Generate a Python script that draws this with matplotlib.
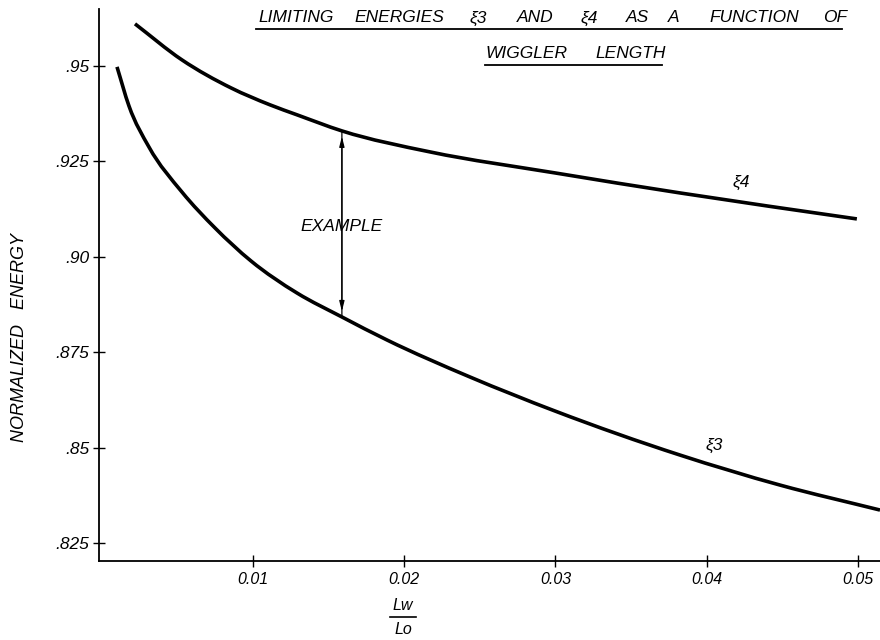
import numpy as np
import matplotlib
matplotlib.use("Agg")
import matplotlib.pyplot as plt
from matplotlib.lines import Line2D
from matplotlib.path import Path
from matplotlib.patches import PathPatch

plt.rcParams['font.family'] = ['Liberation Sans Narrow', 'Liberation Sans', 'DejaVu Sans']
plt.rcParams['font.style'] = 'italic'

# xi4 curve (upper)
x_xi4 = [0.00220, 0.00530, 0.00855, 0.01113, 0.01292, 0.01588, 0.02171, 0.02997, 0.03823, 0.04993]
y_xi4 = [0.96101, 0.95158, 0.94423, 0.93979, 0.93717, 0.93297, 0.92746, 0.92196, 0.91672, 0.90991]

# xi3 curve (lower)
x_xi3 = [0.00101, 0.00180, 0.00312, 0.00530, 0.00749, 0.00987, 0.01291, 0.01588, 0.01886,
         0.02435, 0.02997, 0.03823, 0.04484, 0.05146]
y_xi3 = [0.94974, 0.93952, 0.92877, 0.91698, 0.90755, 0.89890, 0.89051, 0.88423, 0.87820,
         0.86850, 0.85959, 0.84806, 0.84020, 0.83365]

# example marker
x_example = 0.01588
y_example = [0.88423, 0.93297]

xticks = [0.01, 0.02, 0.03, 0.04, 0.05]
xticklabels = ["0.01", "0.02", "0.03", "0.04", "0.05"]
yticks = [0.825, 0.85, 0.875, 0.90, 0.925, 0.95]
yticklabels = [".825", ".85", ".875", ".90", ".925", ".95"]


def smooth_curve(xs, ys):
    # cubic Hermite through the read points, drawn as Bezier segments
    x = np.asarray(xs, float)
    y = np.asarray(ys, float)
    h = np.diff(x)
    d = np.diff(y) / h
    m = np.empty_like(y)
    m[0], m[-1] = d[0], d[-1]
    m[1:-1] = (h[:-1] * d[1:] + h[1:] * d[:-1]) / (h[:-1] + h[1:])
    verts = [(x[0], y[0])]
    codes = [Path.MOVETO]
    for i in range(len(x) - 1):
        verts += [(x[i] + h[i] / 3, y[i] + m[i] * h[i] / 3),
                  (x[i + 1] - h[i] / 3, y[i + 1] - m[i + 1] * h[i] / 3),
                  (x[i + 1], y[i + 1])]
        codes += [Path.CURVE4] * 3
    return Path(verts, codes)


W, H = 880, 640
fig = plt.figure(figsize=(8.8, 6.4), dpi=100)
ax = fig.add_axes([99 / W, 1 - 561 / H, 781 / W, 552 / H])

for xs, ys in [(x_xi4, y_xi4), (x_xi3, y_xi3)]:
    ax.add_patch(PathPatch(smooth_curve(xs, ys), fill=False, edgecolor='black',
                           lw=2.6, capstyle='butt', clip_on=False))

# example arrow: thin line between the curves, small heads just inside
ax.annotate("", xy=(x_example, y_example[1]), xytext=(x_example, y_example[0]),
            arrowprops=dict(arrowstyle='-', color='black', lw=0.9,
                            shrinkA=0, shrinkB=0))
ax.annotate("", xy=(x_example, y_example[1]), xytext=(x_example, y_example[0]),
            arrowprops=dict(arrowstyle='<|-|>,head_length=0.6,head_width=0.15',
                            color='black', lw=0.9, mutation_scale=10,
                            shrinkA=4, shrinkB=4))
ax.text(x_example, 0.9078, "EXAMPLE", ha='center', va='center', fontsize=12.5)

ax.text(0.0423, 0.9175, "ξ4", ha='center', va='bottom', fontsize=12.5)
ax.text(0.0405, 0.8486, "ξ3", ha='center', va='bottom', fontsize=12.5)

ax.set_xlim(-0.00018, 0.05146)
ax.set_ylim(0.8203, 0.9649)
ax.set_xticks(xticks)
ax.set_xticklabels(xticklabels, fontsize=11.5)
ax.set_yticks(yticks)
ax.set_yticklabels(yticklabels, fontsize=12.5)
ax.tick_params(direction='inout', length=8, width=1, color='black')
ax.tick_params(axis='x', pad=4)
ax.tick_params(axis='y', pad=3)

for s in ['top', 'right']:
    ax.spines[s].set_visible(False)
for s in ['left', 'bottom']:
    ax.spines[s].set_linewidth(1.3)

# y axis label
fig.text(20 / W, 1 - 338 / H, "NORMALIZED   ENERGY", rotation=90,
         ha='center', va='center', fontsize=13)

# x axis label as a fraction
fig.text(403 / W, 1 - 605 / H, "Lw", ha='center', va='center', fontsize=11.5)
fig.text(403 / W, 1 - 629 / H, "Lo", ha='center', va='center', fontsize=11.5)
fig.add_artist(Line2D([390 / W, 416 / W], [1 - 617 / H, 1 - 617 / H],
                      transform=fig.transFigure, color='black', lw=1.2))

# title, word by word, underlined
title1 = ["LIMITING", "ENERGIES", "ξ3", "AND", "ξ4", "AS", "A", "FUNCTION", "OF"]
title1_x = [258, 354, 470, 517, 581, 626, 668, 709, 823]
title2 = ["WIGGLER", "LENGTH"]
title2_x = [485, 595]
for w, px in zip(title1, title1_x):
    fig.text(px / W, 1 - 18 / H, w, ha='left', va='center', fontsize=12.5)
for w, px in zip(title2, title2_x):
    fig.text(px / W, 1 - 54 / H, w, ha='left', va='center', fontsize=12.5)
fig.add_artist(Line2D([256 / W, 842 / W], [1 - 29 / H, 1 - 29 / H],
                      transform=fig.transFigure, color='black', lw=1.3))
fig.add_artist(Line2D([485 / W, 662 / W], [1 - 65 / H, 1 - 65 / H],
                      transform=fig.transFigure, color='black', lw=1.3))

fig.savefig("out.png", dpi=100)
plt.close(fig)
